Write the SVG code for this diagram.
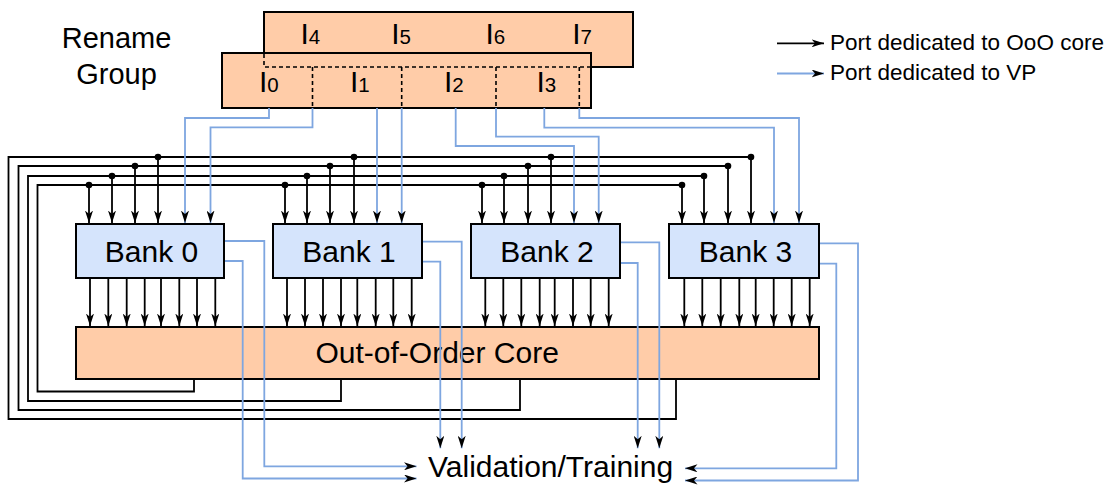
<svg xmlns="http://www.w3.org/2000/svg" width="1109" height="488" viewBox="0 0 1109 488">
<style>
.t{font-family:"Liberation Sans",Arial,sans-serif;fill:#000}
.box{stroke:#000;stroke-width:2}
.peach{fill:#FFCCA8}
.blue{fill:#D5E4FC}
.k{fill:none;stroke:#000;stroke-width:1.8}
.b{fill:none;stroke:#7EA6E0;stroke-width:1.8}
.d{fill:none;stroke:#000;stroke-width:1.6;stroke-dasharray:4 3}
.arr{marker-end:url(#ah)}
</style>
<defs>
<marker id="ah" viewBox="0 0 13 8" markerWidth="13" markerHeight="8" refX="12.5" refY="4" orient="auto" markerUnits="userSpaceOnUse">
<path d="M0,0 L12.5,4 L0,8 L3.5,4 Z" fill="#000"/>
</marker>
</defs>
<rect width="1109" height="488" fill="#fff"/>

<g id="rename-label">
<text class="t" x="116.5" y="48" font-size="29" text-anchor="middle">Rename</text>
<text class="t" x="116.5" y="84" font-size="29" text-anchor="middle">Group</text>
</g>

<g id="rename-group">
<rect class="box peach" x="264" y="12" width="369" height="55"/>
<rect class="box peach" x="222" y="53" width="369" height="55"/>
<path class="d" d="M264,54 V67 H590 M312.5,67 V107 M401.7,67 V107 M496,67 V107 M579.3,67 V107"/>
<g class="t" font-size="30">
<text x="300.5" y="44.3">I<tspan font-size="20.5">4</tspan></text>
<text x="391.2" y="44.3">I<tspan font-size="20.5">5</tspan></text>
<text x="485.5" y="44.3">I<tspan font-size="20.5">6</tspan></text>
<text x="572.2" y="44.3">I<tspan font-size="20.5">7</tspan></text>
<text x="258.9" y="91.7">I<tspan font-size="20.5">0</tspan></text>
<text x="349.9" y="91.7">I<tspan font-size="20.5">1</tspan></text>
<text x="443.9" y="91.7">I<tspan font-size="20.5">2</tspan></text>
<text x="536.5" y="91.7">I<tspan font-size="20.5">3</tspan></text>
</g>
</g>

<g id="bank0">
<rect class="box blue" x="76" y="224" width="148" height="54"/>
<text class="t" x="151.5" y="261.5" font-size="30" text-anchor="middle">Bank 0</text>
</g>
<g id="bank1">
<rect class="box blue" x="273" y="224" width="149" height="54"/>
<text class="t" x="349" y="261.5" font-size="30" text-anchor="middle">Bank 1</text>
</g>
<g id="bank2">
<rect class="box blue" x="471" y="224" width="149" height="54"/>
<text class="t" x="547" y="261.5" font-size="30" text-anchor="middle">Bank 2</text>
</g>
<g id="bank3">
<rect class="box blue" x="669" y="224" width="150" height="54"/>
<text class="t" x="745.5" y="261.5" font-size="30" text-anchor="middle">Bank 3</text>
</g>

<g id="core">
<rect class="box peach" x="76" y="327" width="743" height="52"/>
<text class="t" x="315.5" y="363" font-size="30">Out-of-Order Core</text>
</g>

<g id="validation">
<text class="t" x="428" y="477" font-size="30">Validation/Training</text>
</g>

<g id="legend">
<path class="k arr" d="M777,43.3 H824"/>
<path class="b arr" d="M777,73.5 H824"/>
<text class="t" x="830" y="50" font-size="22.5">Port dedicated to OoO core</text>
<text class="t" x="830" y="80" font-size="22.5">Port dedicated to VP</text>
</g>

<g id="connectors">
<path class="k" d="M676,379 V419 H8.5 V157 H751"/>
<path class="k" d="M520,379 V410 H18.5 V166 H728"/>
<path class="k" d="M341,379 V401 H28 V176 H704"/>
<path class="k" d="M194,379 V391.5 H37.5 V185 H682"/>
<g fill="#000">
<circle cx="158" cy="157" r="3.3"/><circle cx="354" cy="157" r="3.3"/><circle cx="551" cy="157" r="3.3"/><circle cx="751" cy="157" r="3.3"/>
<circle cx="135" cy="166" r="3.3"/><circle cx="330" cy="166" r="3.3"/><circle cx="528" cy="166" r="3.3"/><circle cx="728" cy="166" r="3.3"/>
<circle cx="112" cy="176" r="3.3"/><circle cx="307" cy="176" r="3.3"/><circle cx="504" cy="176" r="3.3"/><circle cx="704" cy="176" r="3.3"/>
<circle cx="89" cy="185" r="3.3"/><circle cx="285" cy="185" r="3.3"/><circle cx="482" cy="185" r="3.3"/><circle cx="682" cy="185" r="3.3"/>
</g>
<g class="k arr">
<path d="M158,157 V223"/><path d="M354,157 V223"/><path d="M551,157 V223"/><path d="M751,157 V223"/>
<path d="M135,166 V223"/><path d="M330,166 V223"/><path d="M528,166 V223"/><path d="M728,166 V223"/>
<path d="M112,176 V223"/><path d="M307,176 V223"/><path d="M504,176 V223"/><path d="M704,176 V223"/>
<path d="M89,185 V223"/><path d="M285,185 V223"/><path d="M482,185 V223"/><path d="M682,185 V223"/>
</g>
<g class="b arr">
<path d="M269,108 V118 H185 V223"/>
<path d="M312.5,108 V127.3 H210.5 V223"/>
<path d="M377,108 V223"/>
<path d="M401.7,108 V223"/>
<path d="M455.7,108 V146 H574 V223"/>
<path d="M496,108 V136.7 H598.7 V223"/>
<path d="M544.3,108 V127.7 H774 V223"/>
<path d="M579.3,108 V118 H799 V223"/>
</g>
<g class="k arr">
<path d="M90,278 V326"/><path d="M108.3,278 V326"/><path d="M126.7,278 V326"/><path d="M144.7,278 V326"/><path d="M161,278 V326"/><path d="M179.3,278 V326"/><path d="M197,278 V326"/><path d="M215.3,278 V326"/>
<path d="M287,278 V326"/><path d="M305,278 V326"/><path d="M323,278 V326"/><path d="M341,278 V326"/><path d="M357.3,278 V326"/><path d="M375.7,278 V326"/><path d="M393.3,278 V326"/><path d="M411.7,278 V326"/>
<path d="M485.3,278 V326"/><path d="M503.3,278 V326"/><path d="M521.3,278 V326"/><path d="M539.7,278 V326"/><path d="M554.7,278 V326"/><path d="M573,278 V326"/><path d="M590.7,278 V326"/><path d="M608.7,278 V326"/>
<path d="M684.3,278 V326"/><path d="M702.3,278 V326"/><path d="M720.7,278 V326"/><path d="M739.3,278 V326"/><path d="M755.7,278 V326"/><path d="M773.7,278 V326"/><path d="M791.7,278 V326"/><path d="M809.7,278 V326"/>
</g>
<g class="b arr">
<path d="M225,241 H264.3 V466.3 H416.5"/>
<path d="M225,261 H242.7 V478.5 H416.5"/>
<path d="M423,241.7 H461.7 V448.3"/>
<path d="M423,261.7 H440.3 V448.3"/>
<path d="M621,242.3 H659.3 V448.3"/>
<path d="M621,263 H637.7 V448.3"/>
<path d="M820,243.3 H858 V480.5 H685"/>
<path d="M820,263.7 H836.3 V468.3 H685"/>
</g>
</g>
</svg>
